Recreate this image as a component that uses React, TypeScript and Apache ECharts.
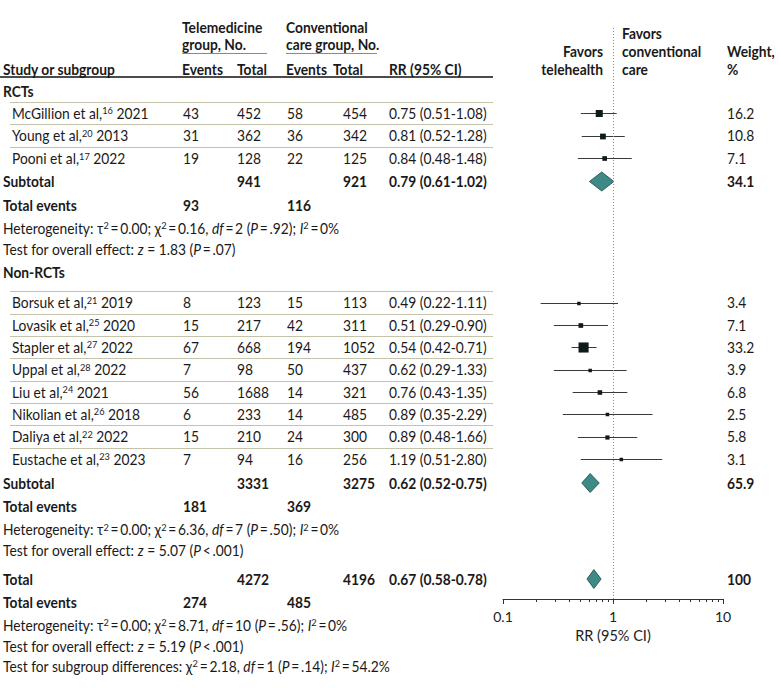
import React, { useEffect, useRef } from "react";
import * as echarts from "echarts";

// ---------------- data ----------------
const rctAuthors = ["McGillion et al,", "Young et al,", "Pooni et al,"];
const rctRefs = ["16", "20", "17"];
const rctYears = ["2021", "2013", "2022"];
const rctTeleEvents = [43, 31, 19];
const rctTeleTotal = [452, 362, 128];
const rctConvEvents = [58, 36, 22];
const rctConvTotal = [454, 342, 125];
const rctRR = [0.75, 0.81, 0.84];
const rctLo = [0.51, 0.52, 0.48];
const rctHi = [1.08, 1.28, 1.48];
const rctWeight = [16.2, 10.8, 7.1];

const nrAuthors = ["Borsuk et al,", "Lovasik et al,", "Stapler et al,", "Uppal et al,", "Liu et al,", "Nikolian et al,", "Daliya et al,", "Eustache et al,"];
const nrRefs = ["21", "25", "27", "28", "24", "26", "22", "23"];
const nrYears = ["2019", "2020", "2022", "2022", "2021", "2018", "2022", "2023"];
const nrTeleEvents = [8, 15, 67, 7, 56, 6, 15, 7];
const nrTeleTotal = [123, 217, 668, 98, 1688, 233, 210, 94];
const nrConvEvents = [15, 42, 194, 50, 14, 14, 24, 16];
const nrConvTotal = [113, 311, 1052, 437, 321, 485, 300, 256];
const nrRR = [0.49, 0.51, 0.54, 0.62, 0.76, 0.89, 0.89, 1.19];
const nrLo = [0.22, 0.29, 0.42, 0.29, 0.43, 0.35, 0.48, 0.51];
const nrHi = [1.11, 0.9, 0.71, 1.33, 1.35, 2.29, 1.66, 2.8];
const nrWeight = [3.4, 7.1, 33.2, 3.9, 6.8, 2.5, 5.8, 3.1];

// pooled rows: RCT subtotal, non-RCT subtotal, overall total
const pooledLabels = ["Subtotal", "Subtotal", "Total"];
const pooledTeleTotal = [941, 3331, 4272];
const pooledConvTotal = [921, 3275, 4196];
const pooledRR = [0.79, 0.62, 0.67];
const pooledLo = [0.61, 0.52, 0.58];
const pooledHi = [1.02, 0.75, 0.78];
const pooledWeight = ["34.1", "65.9", "100"];
const pooledTeleEvents = [93, 181, 274];
const pooledConvEvents = [116, 369, 485];
const hetTau = ["0.00", "0.00", "0.00"];
const hetChi = ["0.16", "6.36", "8.71"];
const hetDf = ["2", "7", "10"];
const hetP = ["= .92", "= .50", "= .56"];
const hetI2 = ["0%", "0%", "0%"];
const overallZ = ["1.83", "5.07", "5.19"];
const overallP = ["= .07", "< .001", "< .001"];
const subgroupChi = "2.18";
const subgroupDf = "1";
const subgroupP = "= .14";
const subgroupI2 = "54.2%";

const minorTicks = [0.2, 0.3, 0.4, 0.5, 0.6, 0.7, 0.8, 0.9, 2, 3, 4, 5, 6, 7, 8, 9];

// ---------------- style / layout ----------------
const FONT = "Lato, 'Open Sans', 'DejaVu Sans', sans-serif";
const INK = "#1a1a1a";
const SX = 0.92;
const FS = 15;
const AXIS_TOP = 28;
const AXIS_Y = 599;

const COL = { label: 3, name: 12, te: 183, tt: 237, ce: 287, ct: 343, rr: 389, w: 727 };

const RICH: any = {
  s: { fontSize: 10, fontFamily: FONT, fill: INK, color: INK, verticalAlign: "top", lineHeight: 9 },
  i: { fontSize: FS, fontFamily: FONT, fill: INK, color: INK, fontStyle: "italic" },
};

function txt(x: number, y: number, text: string, o: { bold?: boolean; align?: string; size?: number } = {}) {
  const align = o.align || "left";
  return {
    type: "text",
    x,
    y,
    scaleX: SX,
    silent: true,
    style: {
      text,
      fill: INK,
      fontSize: o.size || FS,
      fontFamily: FONT,
      fontWeight: o.bold ? "bold" : "normal",
      align,
      textAlign: align,
      verticalAlign: "middle",
      textVerticalAlign: "middle",
      rich: RICH,
    },
  };
}

function hline(x1: number, x2: number, y: number, stroke: string, w = 1) {
  return { type: "line", silent: true, shape: { x1, y1: y, x2, y2: y }, style: { stroke, lineWidth: w } };
}

const fmtRR = (r: number, l: number, h: number) => `${r.toFixed(2)} (${l.toFixed(2)}-${h.toFixed(2)})`;

export default function App() {
  const ref = useRef<HTMLDivElement>(null);

  useEffect(() => {
    document.body.style.margin = "0";
    const chart = echarts.init(ref.current!, null, { renderer: "svg" });

    const g: any[] = [];
    const studyData: any[] = [];
    const pooledData: any[] = [];

    // header
    g.push(txt(182, 27, "Telemedicine", { bold: true }));
    g.push(txt(182, 44, "group, No.", { bold: true }));
    g.push(txt(286, 27, "Conventional", { bold: true }));
    g.push(txt(286, 44, "care group, No.", { bold: true }));
    g.push(hline(182, 267, 53.5, "#8a8a8a"));
    g.push(hline(286, 377, 53.5, "#8a8a8a"));
    g.push(txt(COL.label, 69, "Study or subgroup", { bold: true }));
    g.push(txt(182, 69, "Events", { bold: true }));
    g.push(txt(237, 69, "Total", { bold: true }));
    g.push(txt(286, 69, "Events", { bold: true }));
    g.push(txt(333, 69, "Total", { bold: true }));
    g.push(txt(COL.rr, 69, "RR (95% CI)", { bold: true }));
    g.push(txt(603, 51, "Favors", { bold: true, align: "right" }));
    g.push(txt(603, 69, "telehealth", { bold: true, align: "right" }));
    g.push(txt(622, 33, "Favors", { bold: true }));
    g.push(txt(622, 51, "conventional", { bold: true }));
    g.push(txt(622, 69, "care", { bold: true }));
    g.push(txt(COL.w, 51, "Weight,", { bold: true }));
    g.push(txt(COL.w, 69, "%", { bold: true }));
    g.push(hline(0, 493, 77, "#111", 1.6));

    const groups = [
      {
        title: "RCTs", titleY: 91, startY: 113, pitch: 22.7,
        authors: rctAuthors, refs: rctRefs, years: rctYears, te: rctTeleEvents, tt: rctTeleTotal,
        ce: rctConvEvents, ct: rctConvTotal, rr: rctRR, lo: rctLo, hi: rctHi, w: rctWeight,
        subY: 181.5,
      },
      {
        title: "Non-RCTs", titleY: 272, startY: 302.5, pitch: 22.35,
        authors: nrAuthors, refs: nrRefs, years: nrYears, te: nrTeleEvents, tt: nrTeleTotal,
        ce: nrConvEvents, ct: nrConvTotal, rr: nrRR, lo: nrLo, hi: nrHi, w: nrWeight,
        subY: 483,
      },
    ];

    const pooledRow = (k: number, y: number, evY: number, hetY: number, testY: number) => {
      g.push(txt(COL.label, y, pooledLabels[k], { bold: true }));
      g.push(txt(COL.tt, y, String(pooledTeleTotal[k]), { bold: true }));
      g.push(txt(COL.ct, y, String(pooledConvTotal[k]), { bold: true }));
      g.push(txt(COL.rr, y, fmtRR(pooledRR[k], pooledLo[k], pooledHi[k]), { bold: true }));
      g.push(txt(COL.w, y, pooledWeight[k], { bold: true }));
      pooledData.push([pooledRR[k], pooledLo[k], pooledHi[k], y]);
      g.push(txt(COL.label, evY, "Total events", { bold: true }));
      g.push(txt(COL.te, evY, String(pooledTeleEvents[k]), { bold: true }));
      g.push(txt(COL.ce, evY, String(pooledConvEvents[k]), { bold: true }));
      g.push(
        txt(
          COL.label,
          hetY,
          `Heterogeneity: τ{s|2}\u2009=\u2009${hetTau[k]}; χ{s|2}\u2009=\u2009${hetChi[k]}, {i|df}\u2009=\u2009${hetDf[k]} ({i|P}\u2009${hetP[k].replace(" ", "\u2009")}); {i|I}{s|2}\u2009=\u2009${hetI2[k]}`
        )
      );
      g.push(txt(COL.label, testY, `Test for overall effect: {i|z} = ${overallZ[k]} ({i|P}\u2009${overallP[k].replace(" ", "\u2009")})`));
    };

    groups.forEach((gr, k) => {
      g.push(txt(COL.label, gr.titleY, gr.title, { bold: true }));
      gr.authors.forEach((a, i) => {
        const y = gr.startY + i * gr.pitch;
        g.push(hline(10, 493, Math.round(y - 11.3) + 0.5, "#c6c3ab"));
        g.push(txt(COL.name, y, `${a}{s|${gr.refs[i]}} ${gr.years[i]}`));
        g.push(txt(COL.te, y, String(gr.te[i])));
        g.push(txt(COL.tt, y, String(gr.tt[i])));
        g.push(txt(COL.ce, y, String(gr.ce[i])));
        g.push(txt(COL.ct, y, String(gr.ct[i])));
        g.push(txt(COL.rr, y, fmtRR(gr.rr[i], gr.lo[i], gr.hi[i])));
        g.push(txt(COL.w, y, gr.w[i].toFixed(1)));
        studyData.push([gr.rr[i], gr.lo[i], gr.hi[i], gr.w[i], y]);
      });
      const sy = gr.subY;
      pooledRow(k, sy, sy + 23.5, sy + 46.5, sy + 67.5);
    });

    pooledRow(2, 579, 602, 625, 646);
    g.push(
      txt(
        COL.label,
        666,
        `Test for subgroup differences: χ{s|2}\u2009=\u2009${subgroupChi}, {i|df}\u2009=\u2009${subgroupDf} ({i|P}\u2009${subgroupP.replace(" ", "\u2009")}); {i|I}{s|2}\u2009=\u2009${subgroupI2}`
      )
    );

    const option: any = {
      animation: false,
      grid: { left: 503, right: 57, top: AXIS_TOP, bottom: 688 - AXIS_Y, containLabel: false },
      xAxis: {
        type: "log",
        logBase: 10,
        min: 0.1,
        max: 10,
        axisLine: { show: true, onZero: false, lineStyle: { color: "#333", width: 1 } },
        axisTick: { show: true, inside: false, length: 5, lineStyle: { color: "#333", width: 1 } },
        axisLabel: { color: "#222", fontSize: 14, fontFamily: FONT, margin: 10 },
        splitLine: { show: false },
        minorTick: { show: false },
        name: "RR (95% CI)",
        nameLocation: "middle",
        nameGap: 29,
        nameTextStyle: { color: "#222", fontSize: 14.5, fontFamily: FONT },
      },
      yAxis: { type: "value", min: AXIS_TOP, max: AXIS_Y, inverse: true, show: false },
      series: [
        {
          type: "custom",
          name: "studies",
          clip: false,
          silent: true,
          encode: { x: 0, y: 4 },
          data: studyData,
          renderItem: (_p: any, api: any) => {
            const y = api.value(4);
            const c = api.coord([api.value(0), y]);
            const l = api.coord([api.value(1), y]);
            const h = api.coord([api.value(2), y]);
            const s = Math.max(3.5, 1.75 * Math.sqrt(api.value(3)));
            const yy = Math.round(c[1]) + 0.5;
            return {
              type: "group",
              children: [
                { type: "line", shape: { x1: l[0], y1: yy, x2: h[0], y2: yy }, style: { stroke: "#3a3a3a", lineWidth: 1 } },
                { type: "rect", shape: { x: c[0] - s / 2, y: yy - s / 2, width: s, height: s }, style: { fill: "#0f1a1a" } },
              ],
            };
          },
          markLine: {
            silent: true,
            symbol: "none",
            label: { show: false },
            lineStyle: { color: "#8a8a8a", type: [1, 2], width: 1 },
            data: [{ xAxis: 1 }],
          },
        },
        {
          type: "custom",
          name: "pooled",
          clip: false,
          silent: true,
          encode: { x: 0, y: 3 },
          data: pooledData,
          renderItem: (_p: any, api: any) => {
            const y = api.value(3);
            const c = api.coord([api.value(0), y]);
            const l = api.coord([api.value(1), y]);
            const h = api.coord([api.value(2), y]);
            const hh = 9.5;
            return {
              type: "polygon",
              shape: { points: [[l[0], c[1]], [c[0], c[1] - hh], [h[0], c[1]], [c[0], c[1] + hh]] },
              style: { fill: "#3d8a86", stroke: "#1d4644", lineWidth: 0.8 },
            };
          },
        },
        {
          type: "custom",
          name: "minorTicks",
          clip: false,
          silent: true,
          encode: { x: 0 },
          data: minorTicks.map((v) => [v]),
          renderItem: (_p: any, api: any) => {
            const p = api.coord([api.value(0), AXIS_Y]);
            return {
              type: "line",
              shape: { x1: Math.round(p[0]) + 0.5, y1: p[1], x2: Math.round(p[0]) + 0.5, y2: p[1] + 3 },
              style: { stroke: "#333", lineWidth: 1 },
            };
          },
        },
      ],
      graphic: { elements: g },
    };

    chart.setOption(option);
    return () => chart.dispose();
  }, []);

  return <div ref={ref} style={{ width: 780, height: 688 }} />;
}
